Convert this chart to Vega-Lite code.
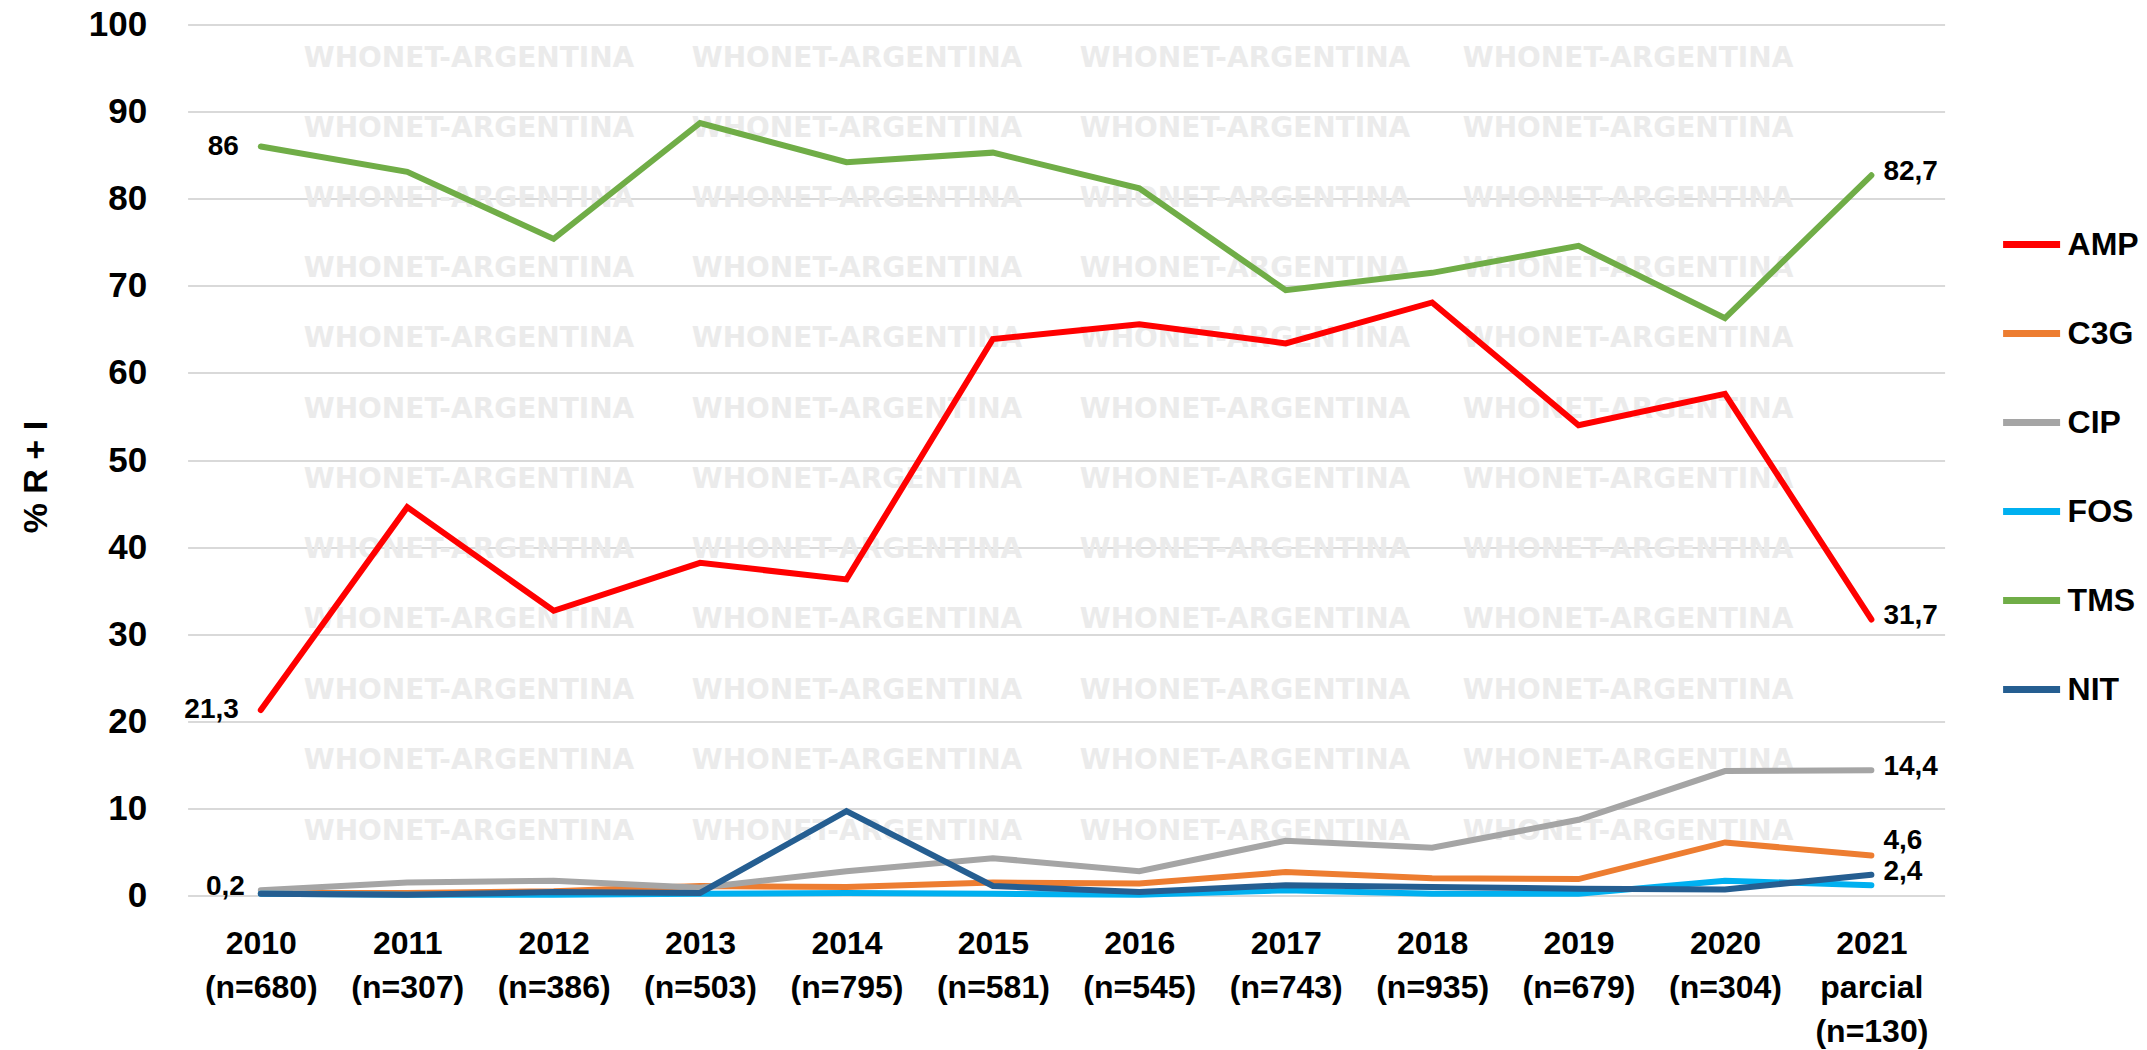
{
  "$schema": "https://vega.github.io/schema/vega-lite/v6.json",
  "width": 1757,
  "height": 871,
  "autosize": {"type": "none"},
  "padding": {"left": 187.6, "top": 24.6, "right": 202.4, "bottom": 154.5},
  "background": "white",
  "config": {"view": {"stroke": null}, "font": "Liberation Sans"},
  "datasets": {
    "wm": [
      {"wx": 1.922, "t": "WHONET-ARGENTINA", "v": [96.1, 88.0, 80.0, 71.9, 63.9, 55.8, 47.7, 39.7, 31.6, 23.5, 15.4, 7.3]},
      {"wx": 4.572, "t": "WHONET-ARGENTINA", "v": [96.1, 88.0, 80.0, 71.9, 63.9, 55.8, 47.7, 39.7, 31.6, 23.5, 15.4, 7.3]},
      {"wx": 7.222, "t": "WHONET-ARGENTINA", "v": [96.1, 88.0, 80.0, 71.9, 63.9, 55.8, 47.7, 39.7, 31.6, 23.5, 15.4, 7.3]},
      {"wx": 9.838, "t": "WHONET-ARGENTINA", "v": [96.1, 88.0, 80.0, 71.9, 63.9, 55.8, 47.7, 39.7, 31.6, 23.5, 15.4, 7.3]}
    ],
    "pts": [
      {"c": "2010|(n=680)", "d": "AMP", "v": 21.3, "l": "21,3"},
      {"c": "2011|(n=307)", "d": "AMP", "v": 44.6},
      {"c": "2012|(n=386)", "d": "AMP", "v": 32.7},
      {"c": "2013|(n=503)", "d": "AMP", "v": 38.2},
      {"c": "2014|(n=795)", "d": "AMP", "v": 36.3},
      {"c": "2015|(n=581)", "d": "AMP", "v": 63.9},
      {"c": "2016|(n=545)", "d": "AMP", "v": 65.6},
      {"c": "2017|(n=743)", "d": "AMP", "v": 63.4},
      {"c": "2018|(n=935)", "d": "AMP", "v": 68.1},
      {"c": "2019|(n=679)", "d": "AMP", "v": 54.0},
      {"c": "2020|(n=304)", "d": "AMP", "v": 57.6},
      {"c": "2021|parcial|(n=130)", "d": "AMP", "v": 31.7, "l": "31,7"},
      {"c": "2010|(n=680)", "d": "C3G", "v": 0.3},
      {"c": "2011|(n=307)", "d": "C3G", "v": 0.3},
      {"c": "2012|(n=386)", "d": "C3G", "v": 0.5},
      {"c": "2013|(n=503)", "d": "C3G", "v": 1.1},
      {"c": "2014|(n=795)", "d": "C3G", "v": 1.0},
      {"c": "2015|(n=581)", "d": "C3G", "v": 1.5},
      {"c": "2016|(n=545)", "d": "C3G", "v": 1.4},
      {"c": "2017|(n=743)", "d": "C3G", "v": 2.7},
      {"c": "2018|(n=935)", "d": "C3G", "v": 2.0},
      {"c": "2019|(n=679)", "d": "C3G", "v": 1.9},
      {"c": "2020|(n=304)", "d": "C3G", "v": 6.1},
      {"c": "2021|parcial|(n=130)", "d": "C3G", "v": 4.6, "l": "4,6"},
      {"c": "2010|(n=680)", "d": "CIP", "v": 0.6},
      {"c": "2011|(n=307)", "d": "CIP", "v": 1.5},
      {"c": "2012|(n=386)", "d": "CIP", "v": 1.7},
      {"c": "2013|(n=503)", "d": "CIP", "v": 0.9},
      {"c": "2014|(n=795)", "d": "CIP", "v": 2.8},
      {"c": "2015|(n=581)", "d": "CIP", "v": 4.3},
      {"c": "2016|(n=545)", "d": "CIP", "v": 2.8},
      {"c": "2017|(n=743)", "d": "CIP", "v": 6.3},
      {"c": "2018|(n=935)", "d": "CIP", "v": 5.5},
      {"c": "2019|(n=679)", "d": "CIP", "v": 8.7},
      {"c": "2020|(n=304)", "d": "CIP", "v": 14.3},
      {"c": "2021|parcial|(n=130)", "d": "CIP", "v": 14.4, "l": "14,4"},
      {"c": "2010|(n=680)", "d": "FOS", "v": 0.2},
      {"c": "2011|(n=307)", "d": "FOS", "v": 0.1},
      {"c": "2012|(n=386)", "d": "FOS", "v": 0.1},
      {"c": "2013|(n=503)", "d": "FOS", "v": 0.2},
      {"c": "2014|(n=795)", "d": "FOS", "v": 0.3},
      {"c": "2015|(n=581)", "d": "FOS", "v": 0.2},
      {"c": "2016|(n=545)", "d": "FOS", "v": 0.1},
      {"c": "2017|(n=743)", "d": "FOS", "v": 0.6},
      {"c": "2018|(n=935)", "d": "FOS", "v": 0.2},
      {"c": "2019|(n=679)", "d": "FOS", "v": 0.2},
      {"c": "2020|(n=304)", "d": "FOS", "v": 1.7},
      {"c": "2021|parcial|(n=130)", "d": "FOS", "v": 1.2},
      {"c": "2010|(n=680)", "d": "TMS", "v": 86, "l": "86"},
      {"c": "2011|(n=307)", "d": "TMS", "v": 83.1},
      {"c": "2012|(n=386)", "d": "TMS", "v": 75.4},
      {"c": "2013|(n=503)", "d": "TMS", "v": 88.7},
      {"c": "2014|(n=795)", "d": "TMS", "v": 84.2},
      {"c": "2015|(n=581)", "d": "TMS", "v": 85.3},
      {"c": "2016|(n=545)", "d": "TMS", "v": 81.2},
      {"c": "2017|(n=743)", "d": "TMS", "v": 69.5},
      {"c": "2018|(n=935)", "d": "TMS", "v": 71.5},
      {"c": "2019|(n=679)", "d": "TMS", "v": 74.6},
      {"c": "2020|(n=304)", "d": "TMS", "v": 66.3},
      {"c": "2021|parcial|(n=130)", "d": "TMS", "v": 82.7, "l": "82,7"},
      {"c": "2010|(n=680)", "d": "NIT", "v": 0.2, "l": "0,2"},
      {"c": "2011|(n=307)", "d": "NIT", "v": 0.1},
      {"c": "2012|(n=386)", "d": "NIT", "v": 0.4},
      {"c": "2013|(n=503)", "d": "NIT", "v": 0.3},
      {"c": "2014|(n=795)", "d": "NIT", "v": 9.7},
      {"c": "2015|(n=581)", "d": "NIT", "v": 1.1},
      {"c": "2016|(n=545)", "d": "NIT", "v": 0.4},
      {"c": "2017|(n=743)", "d": "NIT", "v": 1.2},
      {"c": "2018|(n=935)", "d": "NIT", "v": 1.0},
      {"c": "2019|(n=679)", "d": "NIT", "v": 0.8},
      {"c": "2020|(n=304)", "d": "NIT", "v": 0.7},
      {"c": "2021|parcial|(n=130)", "d": "NIT", "v": 2.4, "l": "2,4"}
    ]
  },
  "encoding": {
    "y": {
      "field": "v",
      "type": "quantitative",
      "scale": {"domain": [0, 100], "nice": false},
      "axis": {
        "values": [0, 10, 20, 30, 40, 50, 60, 70, 80, 90, 100],
        "grid": true,
        "gridColor": "#d9d9d9",
        "gridWidth": 2,
        "domain": false,
        "ticks": false,
        "labelFont": "Liberation Sans",
        "labelFontSize": 35,
        "labelFontWeight": "bold",
        "labelColor": "black",
        "labelPadding": 41,
        "title": "% R + I",
        "titleFont": "Liberation Sans",
        "titleFontSize": 34,
        "titleFontWeight": "bold",
        "titleColor": "black",
        "titleAngle": -90,
        "titleBaseline": "bottom",
        "titleAlign": "center",
        "titleX": -134,
        "titleY": 452
      }
    }
  },
  "resolve": {"scale": {"x": "independent"}, "axis": {"x": "independent"}},
  "layer": [
    {
      "data": {"name": "wm"},
      "transform": [{"flatten": ["v"]}],
      "mark": {"type": "text", "font": "DejaVu Sans", "fontWeight": "bold", "fontSize": 28, "color": "#ebebeb", "align": "center", "baseline": "middle"},
      "encoding": {
        "x": {"field": "wx", "type": "quantitative", "scale": {"domain": [0, 12], "nice": false, "zero": false}, "axis": null},
        "text": {"field": "t"}
      }
    },
    {
      "data": {"name": "pts"},
      "layer": [
        {
          "mark": {"type": "line", "strokeWidth": 6, "strokeCap": "round"},
          "encoding": {
            "x": {
              "field": "c",
              "type": "nominal",
              "sort": null,
              "scale": {
                "type": "point",
                "padding": 0.5,
                "domain": ["2010|(n=680)", "2011|(n=307)", "2012|(n=386)", "2013|(n=503)", "2014|(n=795)", "2015|(n=581)", "2016|(n=545)", "2017|(n=743)", "2018|(n=935)", "2019|(n=679)", "2020|(n=304)", "2021|parcial|(n=130)"]
              },
              "axis": {
                "title": null,
                "domain": false,
                "ticks": false,
                "grid": false,
                "labelExpr": "split(datum.label, '|')",
                "labelAngle": 0,
                "labelFont": "Liberation Sans",
                "labelFontSize": 32,
                "labelFontWeight": "bold",
                "labelColor": "black",
                "labelPadding": 33,
                "labelLineHeight": 44,
                "labelBaseline": "top"
              }
            },
            "color": {
              "field": "d",
              "type": "nominal",
              "scale": {
                "domain": ["AMP", "C3G", "CIP", "FOS", "TMS", "NIT"],
                "range": ["#ff0000", "#ed7d31", "#a5a5a5", "#00b0f0", "#70ad47", "#255e91"]
              },
              "legend": {
                "orient": "none",
                "legendX": 1812,
                "legendY": 188,
                "title": null,
                "direction": "vertical",
                "symbolType": "stroke",
                "symbolSize": 3249,
                "symbolStrokeWidth": 7,
                "labelFont": "Liberation Sans",
                "labelFontSize": 32,
                "labelFontWeight": "bold",
                "labelColor": "black",
                "labelOffset": 4,
                "rowPadding": 41,
                "padding": 0
              }
            }
          }
        },
        {
          "transform": [{"filter": "datum.l != null && datum.d != 'NIT' && datum.c == '2010|(n=680)'"}],
          "mark": {"type": "text", "fontSize": 28, "fontWeight": "bold", "color": "black", "align": "right", "baseline": "middle", "dx": -22},
          "encoding": {"x": {"field": "c", "type": "nominal"}, "text": {"field": "l"}}
        },
        {
          "transform": [{"filter": "datum.l != null && datum.d == 'NIT' && datum.c == '2010|(n=680)'"}],
          "mark": {"type": "text", "fontSize": 28, "fontWeight": "bold", "color": "black", "align": "right", "baseline": "middle", "dx": -16, "dy": -7},
          "encoding": {"x": {"field": "c", "type": "nominal"}, "text": {"field": "l"}}
        },
        {
          "transform": [{"filter": "datum.l != null && datum.d != 'C3G' && datum.c == '2021|parcial|(n=130)'"}],
          "mark": {"type": "text", "fontSize": 28, "fontWeight": "bold", "color": "black", "align": "left", "baseline": "middle", "dx": 12, "dy": -3},
          "encoding": {"x": {"field": "c", "type": "nominal"}, "text": {"field": "l"}}
        },
        {
          "transform": [{"filter": "datum.l != null && datum.d == 'C3G' && datum.c == '2021|parcial|(n=130)'"}],
          "mark": {"type": "text", "fontSize": 28, "fontWeight": "bold", "color": "black", "align": "left", "baseline": "middle", "dx": 12, "dy": -15},
          "encoding": {"x": {"field": "c", "type": "nominal"}, "text": {"field": "l"}}
        }
      ]
    }
  ]
}
